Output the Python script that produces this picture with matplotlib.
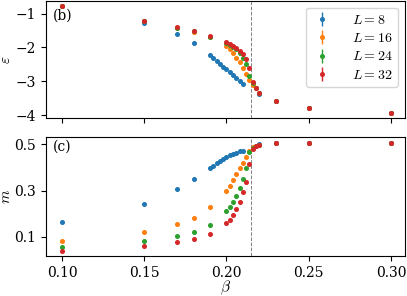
import matplotlib
matplotlib.use("Agg")
import matplotlib.pyplot as plt
import numpy as np

plt.rcParams['font.family'] = ['DejaVu Serif']
plt.rcParams['mathtext.fontset'] = 'cm'

beta_c = 0.2148

# L = 8
b8 = [0.10, 0.15, 0.17, 0.18, 0.190, 0.192, 0.194, 0.196, 0.198, 0.200, 0.202, 0.204,
      0.206, 0.208, 0.210, 0.22, 0.23, 0.25, 0.30]
e8 = [-0.77, -1.28, -1.61, -1.86, -2.22, -2.30, -2.39, -2.48, -2.57, -2.65, -2.74, -2.81,
      -2.90, -2.98, -3.07, -3.38, -3.59, -3.80, -3.95]
m8 = [0.165, 0.243, 0.305, 0.348, 0.395, 0.407, 0.418, 0.428, 0.437, 0.445, 0.452, 0.458,
      0.463, 0.468, 0.472, 0.500, 0.503, 0.505, 0.503]

# L = 16, 24, 32 share the same beta grid
bL = [0.10, 0.15, 0.17, 0.18, 0.19, 0.200, 0.202, 0.204, 0.206, 0.208, 0.210, 0.212,
      0.214, 0.216, 0.218, 0.220, 0.23, 0.25, 0.30]
e16 = [-0.77, -1.22, -1.43, -1.54, -1.69, -1.97, -2.06, -2.17, -2.30, -2.44, -2.61, -2.79,
       -2.95, -3.11, -3.20, -3.36, -3.59, -3.80, -3.95]
m16 = [0.083, 0.121, 0.156, 0.183, 0.228, 0.299, 0.321, 0.347, 0.372, 0.395, 0.420, 0.446,
       0.470, 0.487, 0.492, 0.495, 0.503, 0.505, 0.503]
e24 = [-0.77, -1.21, -1.42, -1.53, -1.68, -1.87, -1.92, -1.98, -2.05, -2.17, -2.30, -2.50,
       -2.84, -3.05, -3.20, -3.36, -3.59, -3.80, -3.95]
m24 = [0.056, 0.081, 0.103, 0.123, 0.153, 0.212, 0.229, 0.252, 0.278, 0.309, 0.348, 0.398,
       0.464, 0.485, 0.492, 0.495, 0.503, 0.505, 0.503]
e32 = [-0.77, -1.21, -1.41, -1.53, -1.67, -1.85, -1.89, -1.95, -2.01, -2.10, -2.19, -2.33,
       -2.60, -3.01, -3.20, -3.36, -3.59, -3.80, -3.95]
m32 = [0.041, 0.061, 0.077, 0.091, 0.114, 0.160, 0.173, 0.195, 0.220, 0.249, 0.294, 0.337,
       0.413, 0.480, 0.492, 0.495, 0.503, 0.505, 0.503]

series = [
    ("$L=8$", b8, e8, m8, "#1f77b4"),
    ("$L=16$", bL, e16, m16, "#ff7f0e"),
    ("$L=24$", bL, e24, m24, "#2ca02c"),
    ("$L=32$", bL, e32, m32, "#d62728"),
]

fig = plt.figure(figsize=(4.07, 2.96), dpi=100)
ax1 = fig.add_axes([0.113, 0.601, 0.882, 0.397])
ax2 = fig.add_axes([0.113, 0.135, 0.882, 0.402], sharex=ax1)

for lab, b, e, m, c in series:
    ax1.errorbar(b, e, yerr=0.005, fmt='o', ms=2.6, color=c, label=lab, elinewidth=1)
    ax2.errorbar(b, m, yerr=0.002, fmt='o', ms=2.6, color=c, label=lab, elinewidth=1)

for ax in (ax1, ax2):
    ax.axvline(beta_c, color='gray', ls='--', lw=0.7)

ax1.set_xlim(0.0903, 0.3085)
ax1.set_ylim(-4.09, -0.618)
ax2.set_ylim(0.018, 0.530)
ax1.set_yticks([-1, -2, -3, -4])
ax2.set_yticks([0.1, 0.3, 0.5])
ax2.set_xticks([0.10, 0.15, 0.20, 0.25, 0.30])
plt.setp(ax1.get_xticklabels(), visible=False)

ax1.set_ylabel(r"$\varepsilon$", fontsize=11)
ax2.set_ylabel(r"$m$", fontsize=11)
ax2.set_xlabel(r"$\beta$", fontsize=11)
ax1.yaxis.set_label_coords(-0.092, 0.5)
ax2.yaxis.set_label_coords(-0.093, 0.5)
ax2.xaxis.set_label_coords(0.5, -0.188)

ax1.text(0.02, 0.81, "(b)", transform=ax1.transAxes, fontsize=10, va='bottom')
ax2.text(0.02, 0.857, "(c)", transform=ax2.transAxes, fontsize=10, va='bottom')

ax1.legend(loc='upper right', fontsize=10, handlelength=1.5, borderpad=0.4,
           labelspacing=0.3, handletextpad=1.4)

fig.savefig("out.png", dpi=100)
